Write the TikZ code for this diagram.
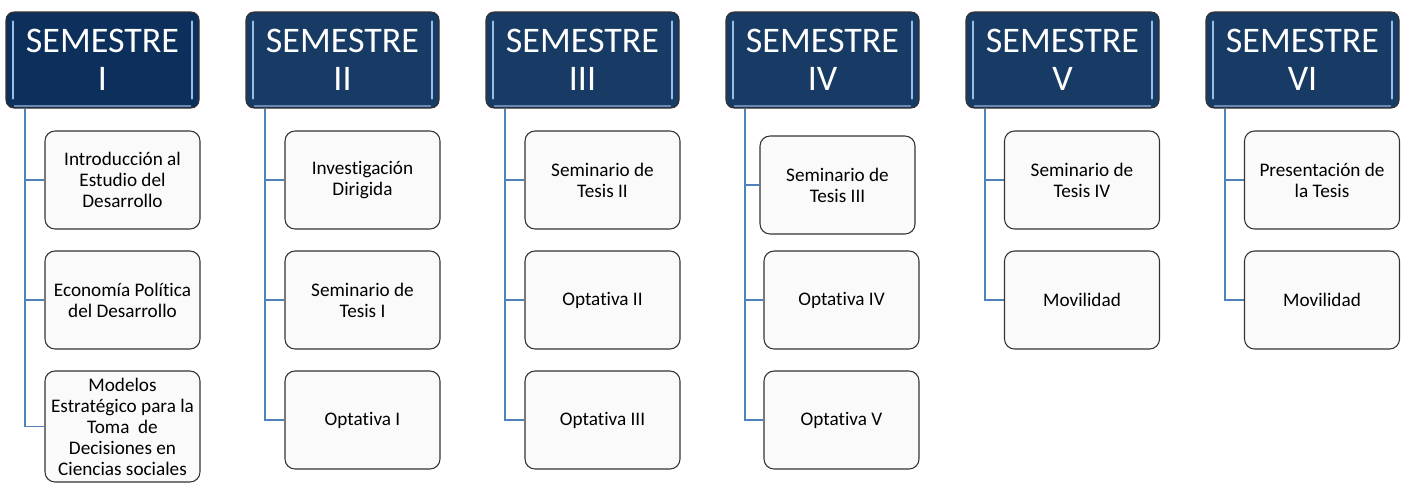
\documentclass[tikz,border=0pt]{standalone}
\usepackage{fontspec}
\setmainfont{Carlito}[Ligatures={NoCommon,NoContextual}]
\definecolor{navy}{HTML}{173B65}
\definecolor{navydark}{HTML}{0C2F5C}
\definecolor{glow}{HTML}{9DBDE4}
\definecolor{linkblue}{HTML}{4F81BD}
\definecolor{boxfill}{HTML}{FAFAFA}

\begin{document}
\begin{tikzpicture}[x=0.75pt,y=-0.75pt]
	\useasboundingbox (0,0) rectangle (1406,482);
	\tikzset{
		semester/.style={draw=black!80,line width=0.8pt,fill=navy,rounded corners=6pt,
			minimum width=144.75pt,minimum height=72pt,align=center,text=white,
			font=\fontsize{27}{28.5}\selectfont,
			path picture={
				\draw[glow,line width=1.6pt,line cap=round]
					([xshift=5pt,yshift=-7pt]path picture bounding box.north west) --
					([xshift=5pt,yshift=7pt]path picture bounding box.south west);
				\draw[glow,line width=1.6pt,line cap=round]
					([xshift=-5pt,yshift=-7pt]path picture bounding box.north east) --
					([xshift=-5pt,yshift=7pt]path picture bounding box.south east);
				\draw[glow!60!navy,line width=1.2pt]
					([xshift=6pt,yshift=1.5pt]path picture bounding box.south west) --
					([xshift=-6pt,yshift=1.5pt]path picture bounding box.south east);
			}},
		course/.style={draw=black!80,line width=0.8pt,fill=boxfill,rounded corners=7.5pt,
			minimum width=116.25pt,minimum height=73.5pt,align=center,inner sep=1pt,
			font=\fontsize{14.4}{15.75}\selectfont},
		link/.style={draw=linkblue,line width=1pt}
	}
	% headers
	\node[semester,fill=navydark] (H1) at (102.5,60) {SEMESTRE\\I};
	\node[semester] (H2) at (342.5,60) {SEMESTRE\\II};
	\node[semester] (H3) at (582.5,60) {SEMESTRE\\III};
	\node[semester] (H4) at (822.5,60) {SEMESTRE\\IV};
	\node[semester] (H5) at (1062.5,60) {SEMESTRE\\V};
	\node[semester] (H6) at (1302.5,60) {SEMESTRE\\VI};
	% semester I
	\node[course] (C11) at (122.5,180) {Introducción al\\Estudio del\\Desarrollo};
	\node[course] (C12) at (122.5,300) {Economía Política\\del Desarrollo};
	\node[course,minimum height=83.25pt] (C13) at (122.5,426.5) {Modelos\\Estratégico para la\\Toma~ de\\Decisiones en\\Ciencias sociales};
	% semester II
	\node[course] (C21) at (362.5,180) {Investigación\\Dirigida};
	\node[course] (C22) at (362.5,300) {Seminario de\\Tesis I};
	\node[course] (C23) at (362.5,420) {Optativa I};
	% semester III
	\node[course] (C31) at (602.5,180) {Seminario de\\Tesis II};
	\node[course] (C32) at (602.5,300) {Optativa II};
	\node[course] (C33) at (602.5,420) {Optativa III};
	% semester IV
	\node[course] (C41) at (837.5,185) {Seminario de\\Tesis III};
	\node[course] (C42) at (841.5,300) {Optativa IV};
	\node[course] (C43) at (841.5,420) {Optativa V};
	% semester V
	\node[course] (C51) at (1082,180) {Seminario de\\Tesis IV};
	\node[course] (C52) at (1082,300) {Movilidad};
	% semester VI
	\node[course] (C61) at (1322,180) {Presentación de\\la Tesis};
	\node[course] (C62) at (1322,300) {Movilidad};
	% connectors
	\draw[link] ([xshift=14.6pt]H1.south west) |- (C11.west);
	\draw[link] ([xshift=14.6pt]H1.south west) |- (C12.west);
	\draw[link] ([xshift=14.6pt]H1.south west) |- (C13.west);
	\draw[link] ([xshift=14.6pt]H2.south west) |- (C21.west);
	\draw[link] ([xshift=14.6pt]H2.south west) |- (C22.west);
	\draw[link] ([xshift=14.6pt]H2.south west) |- (C23.west);
	\draw[link] ([xshift=14.6pt]H3.south west) |- (C31.west);
	\draw[link] ([xshift=14.6pt]H3.south west) |- (C32.west);
	\draw[link] ([xshift=14.6pt]H3.south west) |- (C33.west);
	\draw[link] ([xshift=14.6pt]H4.south west) |- (C41.west);
	\draw[link] ([xshift=14.6pt]H4.south west) |- (C42.west);
	\draw[link] ([xshift=14.6pt]H4.south west) |- (C43.west);
	\draw[link] ([xshift=14.6pt]H5.south west) |- (C51.west);
	\draw[link] ([xshift=14.6pt]H5.south west) |- (C52.west);
	\draw[link] ([xshift=14.6pt]H6.south west) |- (C61.west);
	\draw[link] ([xshift=14.6pt]H6.south west) |- (C62.west);
\end{tikzpicture}
\end{document}
